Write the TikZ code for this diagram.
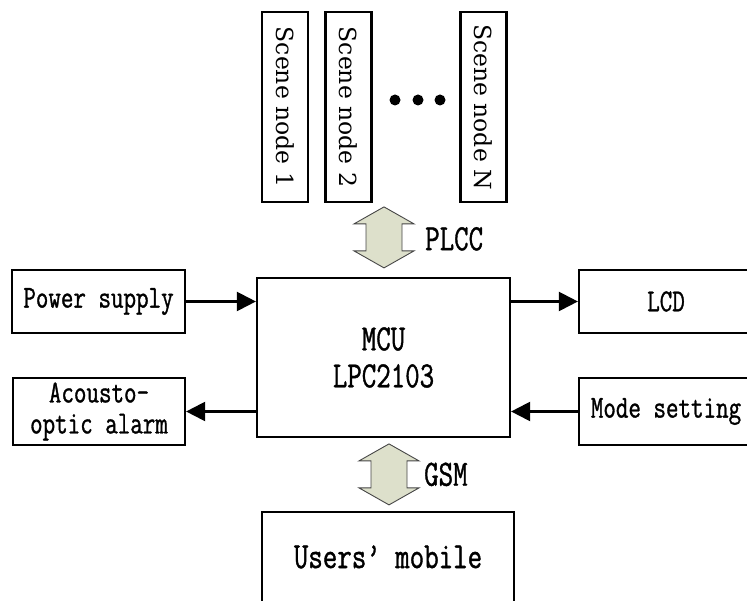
\documentclass[tikz,border=0pt]{standalone}
\usepackage{fontspec}
\usepackage{xcolor}
\usepackage{tikz}
\usetikzlibrary{positioning,arrows.meta,calc}

\newfontfamily\labelfont[FakeStretch=0.76, FakeBold=1]{Latin Modern Mono}
\newfontfamily\scenefont{DejaVu Serif}
\newcommand{\sidefont}{\labelfont\fontsize{32}{31}\selectfont}
\newcommand{\corefont}{\labelfont\fontsize{37}{37}\selectfont}
\newcommand{\scenetext}{\scenefont\fontsize{23.5}{26}\selectfont}
\definecolor{arrowfill}{RGB}{221,224,203}
\definecolor{arrowline}{RGB}{70,70,70}

% hollow two-way arrow centred on a coordinate
\newcommand{\linkarrow}[1]{%
  \draw[link] ($(#1)+(0,30.5)$) -- ++(30,-17) -- ++(-12,0) -- ++(0,-27) -- ++(12,0)
    -- ++(-30,-17) -- ++(-30,17) -- ++(12,0) -- ++(0,27) -- ++(-12,0) -- cycle;}

\begin{document}
\begin{tikzpicture}[x=1pt, y=1pt, >={Triangle[length=19pt, width=19pt]}]
    \tikzstyle{block} = [draw, line width=2.2pt, rectangle, inner sep=0pt, align=center, font=\sidefont]
    \tikzstyle{core} = [block, font=\corefont]
    \tikzstyle{scene} = [block, rotate=-90, minimum width=190pt, minimum height=46pt, font=\scenetext]
    \tikzstyle{arrow} = [->, line width=2.2pt]
    \tikzstyle{link} = [fill=arrowfill, draw=arrowline, line width=0.9pt]

    \useasboundingbox (0,0) rectangle (747,601);

    \node[scene] (scene1) at (285,494) {Scene node 1};
    \node[scene] (scene2) at (348.5,494) {Scene node 2};
    \node[scene] (sceneN) at (483.5,494) {Scene node N};
    \fill (395,501) circle (5.5) (418,501) circle (5.5) (440,501) circle (5.5);

    \node[core, minimum width=253pt, minimum height=159pt] (mcu) at (383.5,243.5) {MCU\\LPC2103};
    \node[block, minimum width=173pt, minimum height=63pt] (power) at (98.5,299.5) {Power supply};
    \node[block, minimum width=172pt, minimum height=67pt] (alarm) at (99,189.5) {Acousto-\\optic alarm};
    \node[block, minimum width=174pt, minimum height=63pt] (lcd) at (666,299.5) {LCD};
    \node[block, minimum width=174pt, minimum height=67pt] (mode) at (666,189.5) {Mode setting};
    \node[core, minimum width=252pt, minimum height=90pt] (users) at (388,44) {Users’ mobile};

    \coordinate (plccmid) at ($(mcu.north)+(0.5,39.5)$);
    \coordinate (gsmmid) at ($(users.north)+(1,36.5)$);
    \linkarrow{plccmid}
    \linkarrow{gsmmid}
    \node[anchor=west, font=\corefont, inner sep=0pt] (plcc) at ($(plccmid)+(41,-1.5)$) {PLCC};
    \node[anchor=west, font=\corefont, inner sep=0pt] (gsm) at ($(gsmmid)+(35,0)$) {GSM};

    \draw[arrow] (power) -- (power -| mcu.west);
    \draw[arrow] (mcu.east |- lcd) -- (lcd);
    \draw[arrow] (mcu.west |- alarm) -- (alarm);
    \draw[arrow] (mode) -- (mode -| mcu.east);
\end{tikzpicture}
\end{document}
